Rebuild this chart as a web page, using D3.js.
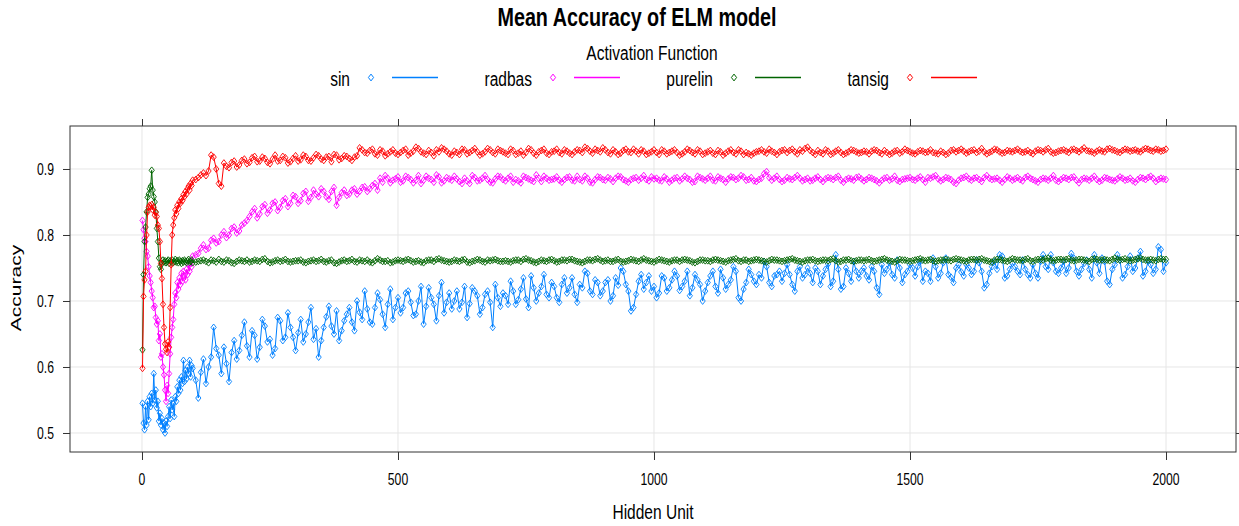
<!DOCTYPE html>
<html><head><meta charset="utf-8">
<script src="https://cdn.jsdelivr.net/npm/d3@7"></script>
<style>
body{margin:0;background:#fff;}
svg{display:block;font-family:'Liberation Sans','Arial',sans-serif;}
</style></head><body>
<svg id="chart" width="1239" height="526"></svg>
<script>
// ---------- DATA ----------
const hiddenUnitsEarly = [1,3,5,7,9,11,13,15,17,19,21,23,25,27,29,31,33,35,37,39,41,43,45,47,49,51,53,55,57,59,61,63,65,67,69,71,73,75,77,79,81,83,85,87,89,91,93,95,97,99];
const hiddenUnitsLate = [
105,110,115,120,125,130,135,140,145,150,155,160,165,170,175,180,185,190,195,200,
205,210,215,220,225,230,235,240,245,250,255,260,265,270,275,280,285,290,295,300,
305,310,315,320,325,330,335,340,345,350,355,360,365,370,375,380,385,390,395,400,
405,410,415,420,425,430,435,440,445,450,455,460,465,470,475,480,485,490,495,500,
505,510,515,520,525,530,535,540,545,550,555,560,565,570,575,580,585,590,595,600,
605,610,615,620,625,630,635,640,645,650,655,660,665,670,675,680,685,690,695,700,
705,710,715,720,725,730,735,740,745,750,755,760,765,770,775,780,785,790,795,800,
805,810,815,820,825,830,835,840,845,850,855,860,865,870,875,880,885,890,895,900,
905,910,915,920,925,930,935,940,945,950,955,960,965,970,975,980,985,990,995,1000,
1005,1010,1015,1020,1025,1030,1035,1040,1045,1050,1055,1060,1065,1070,1075,1080,1085,1090,1095,1100,
1105,1110,1115,1120,1125,1130,1135,1140,1145,1150,1155,1160,1165,1170,1175,1180,1185,1190,1195,1200,
1205,1210,1215,1220,1225,1230,1235,1240,1245,1250,1255,1260,1265,1270,1275,1280,1285,1290,1295,1300,
1305,1310,1315,1320,1325,1330,1335,1340,1345,1350,1355,1360,1365,1370,1375,1380,1385,1390,1395,1400,
1405,1410,1415,1420,1425,1430,1435,1440,1445,1450,1455,1460,1465,1470,1475,1480,1485,1490,1495,1500,
1505,1510,1515,1520,1525,1530,1535,1540,1545,1550,1555,1560,1565,1570,1575,1580,1585,1590,1595,1600,
1605,1610,1615,1620,1625,1630,1635,1640,1645,1650,1655,1660,1665,1670,1675,1680,1685,1690,1695,1700,
1705,1710,1715,1720,1725,1730,1735,1740,1745,1750,1755,1760,1765,1770,1775,1780,1785,1790,1795,1800,
1805,1810,1815,1820,1825,1830,1835,1840,1845,1850,1855,1860,1865,1870,1875,1880,1885,1890,1895,1900,
1905,1910,1915,1920,1925,1930,1935,1940,1945,1950,1955,1960,1965,1970,1975,1980,1985,1990,1995,2000];
const hiddenUnits = hiddenUnitsEarly.concat(hiddenUnitsLate);

const sinAcc = [0.545,0.515,0.505,0.540,0.512,0.548,0.520,0.555,0.540,0.560,0.545,0.590,0.550,0.565,0.538,0.548,0.518,0.530,0.512,0.522,0.505,0.515,0.500,0.518,0.510,0.525,0.540,0.522,0.550,0.535,0.545,0.525,0.555,0.548,0.570,0.560,0.580,0.565,0.585,0.575,0.610,0.578,0.595,0.582,0.600,0.590,0.610,0.585,0.602,0.598,
0.580,0.553,0.592,0.612,0.575,0.600,0.615,0.660,0.628,0.618,0.590,0.630,0.605,0.578,0.622,0.640,0.612,0.625,0.648,0.668,
0.632,0.615,0.655,0.648,0.612,0.630,0.672,0.662,0.638,0.642,0.618,0.628,0.675,0.670,0.640,0.645,0.682,0.660,0.645,0.625,
0.652,0.672,0.638,0.650,0.668,0.690,0.642,0.658,0.615,0.640,0.660,0.676,0.692,0.662,0.650,0.685,0.640,0.655,0.670,0.680,
0.690,0.668,0.655,0.700,0.683,0.672,0.715,0.688,0.668,0.665,0.690,0.712,0.702,0.680,0.660,0.695,0.718,0.672,0.690,0.705,
0.682,0.690,0.712,0.715,0.698,0.678,0.680,0.700,0.722,0.665,0.692,0.720,0.705,0.695,0.670,0.708,0.728,0.682,0.698,0.712,
0.688,0.700,0.715,0.688,0.698,0.722,0.675,0.696,0.720,0.715,0.708,0.680,0.690,0.710,0.715,0.698,0.660,0.725,0.705,0.692,
0.712,0.708,0.695,0.730,0.715,0.695,0.702,0.718,0.735,0.703,0.690,0.738,0.720,0.700,0.712,0.722,0.740,0.710,0.705,0.728,
0.722,0.705,0.698,0.725,0.735,0.712,0.720,0.735,0.710,0.698,0.725,0.720,0.745,0.742,0.715,0.710,0.732,0.728,0.708,0.715,
0.728,0.732,0.700,0.708,0.735,0.724,0.750,0.745,0.725,0.715,0.685,0.690,0.710,0.730,0.740,0.718,0.728,0.738,0.715,0.722,
0.705,0.712,0.738,0.735,0.715,0.720,0.732,0.745,0.738,0.716,0.722,0.730,0.745,0.708,0.720,0.740,0.732,0.725,0.700,0.715,
0.728,0.738,0.745,0.722,0.712,0.748,0.735,0.718,0.725,0.732,0.752,0.745,0.705,0.700,0.718,0.728,0.748,0.740,0.730,0.725,
0.740,0.735,0.760,0.752,0.728,0.722,0.738,0.740,0.745,0.730,0.742,0.755,0.740,0.725,0.715,0.745,0.752,0.735,0.740,0.750,
0.742,0.728,0.750,0.745,0.725,0.738,0.748,0.756,0.722,0.730,0.770,0.748,0.718,0.722,0.750,0.742,0.730,0.760,0.745,0.735,
0.745,0.750,0.738,0.732,0.752,0.745,0.720,0.710,0.755,0.742,0.748,0.758,0.740,0.735,0.762,0.750,0.728,0.740,0.745,0.755,
0.750,0.738,0.752,0.760,0.730,0.745,0.742,0.730,0.765,0.752,0.735,0.742,0.758,0.765,0.740,0.736,0.728,0.750,0.755,0.744,
0.738,0.755,0.750,0.740,0.745,0.762,0.758,0.745,0.720,0.725,0.742,0.752,0.760,0.748,0.770,0.768,0.735,0.738,0.748,0.757,
0.752,0.745,0.740,0.762,0.748,0.740,0.735,0.755,0.742,0.735,0.760,0.770,0.752,0.748,0.770,0.758,0.745,0.742,0.750,0.760,
0.742,0.750,0.772,0.765,0.745,0.738,0.748,0.757,0.762,0.748,0.735,0.770,0.758,0.742,0.765,0.760,0.730,0.725,0.748,0.755,
0.770,0.762,0.735,0.740,0.752,0.768,0.745,0.750,0.765,0.775,0.738,0.745,0.760,0.755,0.742,0.748,0.782,0.778,0.745,0.758];

const radbasAcc = [0.822,0.808,0.795,0.790,0.775,0.768,0.752,0.738,0.728,0.715,0.705,0.690,0.692,0.675,0.665,0.670,0.640,0.650,0.615,0.620,0.600,0.588,0.565,0.548,0.572,0.560,0.590,0.620,0.645,0.660,0.672,0.695,0.712,0.705,0.728,0.718,0.735,0.725,0.742,0.730,0.745,0.738,0.732,0.748,0.740,0.755,0.745,0.760,0.752,0.768,
0.770,0.772,0.780,0.785,0.778,0.780,0.792,0.795,0.788,0.790,0.800,0.805,0.796,0.800,0.810,0.812,0.803,0.806,0.815,0.818,
0.822,0.828,0.835,0.840,0.826,0.832,0.843,0.846,0.833,0.838,0.848,0.850,0.837,0.842,0.852,0.855,0.843,0.848,0.860,0.858,
0.848,0.852,0.863,0.866,0.851,0.857,0.868,0.862,0.858,0.870,0.866,0.858,0.854,0.866,0.872,0.845,0.857,0.864,0.868,0.860,
0.862,0.868,0.870,0.862,0.866,0.872,0.873,0.866,0.870,0.875,0.878,0.868,0.886,0.880,0.890,0.886,0.879,0.883,0.885,0.888,
0.880,0.882,0.889,0.887,0.884,0.879,0.883,0.890,0.878,0.883,0.889,0.886,0.884,0.880,0.891,0.888,0.879,0.882,0.887,0.885,
0.883,0.889,0.885,0.881,0.878,0.886,0.882,0.878,0.890,0.887,0.882,0.883,0.886,0.890,0.884,0.880,0.879,0.885,0.889,0.888,
0.884,0.882,0.886,0.889,0.880,0.884,0.882,0.879,0.889,0.887,0.885,0.883,0.881,0.891,0.886,0.881,0.889,0.886,0.883,0.884,
0.885,0.888,0.883,0.880,0.884,0.887,0.888,0.883,0.882,0.889,0.884,0.882,0.889,0.886,0.880,0.879,0.884,0.888,0.887,0.884,
0.883,0.887,0.885,0.881,0.886,0.889,0.888,0.884,0.882,0.880,0.884,0.886,0.887,0.883,0.886,0.890,0.884,0.882,0.888,0.885,
0.886,0.883,0.882,0.888,0.885,0.880,0.883,0.886,0.887,0.882,0.885,0.889,0.886,0.884,0.880,0.881,0.889,0.887,0.885,0.883,
0.886,0.889,0.883,0.882,0.888,0.886,0.884,0.880,0.885,0.888,0.887,0.884,0.886,0.890,0.888,0.883,0.884,0.887,0.882,0.881,
0.884,0.886,0.893,0.896,0.887,0.883,0.886,0.889,0.884,0.881,0.883,0.887,0.885,0.884,0.887,0.890,0.886,0.882,0.884,0.886,
0.882,0.883,0.886,0.888,0.884,0.881,0.885,0.887,0.886,0.884,0.887,0.889,0.883,0.880,0.884,0.886,0.885,0.883,0.887,0.888,
0.885,0.882,0.884,0.887,0.886,0.884,0.882,0.879,0.883,0.886,0.887,0.883,0.885,0.889,0.883,0.881,0.884,0.885,0.886,0.887,
0.884,0.883,0.886,0.888,0.884,0.880,0.887,0.886,0.888,0.890,0.885,0.882,0.884,0.887,0.886,0.884,0.880,0.878,0.883,0.886,
0.887,0.889,0.885,0.883,0.886,0.887,0.884,0.881,0.887,0.890,0.886,0.884,0.885,0.886,0.883,0.880,0.884,0.888,0.886,0.883,
0.885,0.887,0.884,0.882,0.887,0.889,0.886,0.884,0.882,0.880,0.884,0.886,0.885,0.883,0.886,0.890,0.883,0.881,0.884,0.887,
0.886,0.884,0.887,0.888,0.883,0.879,0.884,0.886,0.885,0.883,0.886,0.889,0.884,0.881,0.883,0.887,0.886,0.884,0.883,0.882,
0.885,0.888,0.886,0.883,0.884,0.886,0.882,0.880,0.884,0.887,0.886,0.884,0.887,0.889,0.886,0.881,0.884,0.886,0.885,0.884];

const purelinAcc = [0.626,0.740,0.790,0.812,0.835,0.857,0.862,0.870,0.874,0.898,0.868,0.858,0.850,0.835,0.810,0.790,0.765,0.752,0.748,0.757,0.762,0.759,0.761,0.758,0.760,0.762,0.757,0.761,0.759,0.762,0.758,0.760,0.763,0.759,0.761,0.758,0.762,0.760,0.757,0.761,0.759,0.762,0.760,0.758,0.761,0.763,0.759,0.760,0.762,0.758,
0.759,0.760,0.761,0.762,0.760,0.758,0.762,0.761,0.759,0.763,0.760,0.759,0.762,0.761,0.758,0.757,0.760,0.762,0.761,0.760,
0.762,0.759,0.760,0.762,0.761,0.760,0.763,0.764,0.760,0.758,0.759,0.761,0.762,0.760,0.761,0.763,0.760,0.759,0.760,0.761,
0.761,0.762,0.759,0.758,0.760,0.761,0.762,0.760,0.761,0.763,0.760,0.759,0.761,0.762,0.758,0.757,0.759,0.761,0.762,0.760,
0.761,0.763,0.760,0.759,0.762,0.761,0.760,0.762,0.759,0.758,0.761,0.764,0.762,0.760,0.760,0.761,0.758,0.759,0.761,0.762,
0.761,0.760,0.762,0.763,0.761,0.759,0.760,0.761,0.759,0.758,0.761,0.762,0.762,0.760,0.763,0.764,0.762,0.761,0.760,0.759,
0.760,0.762,0.761,0.760,0.762,0.763,0.759,0.758,0.760,0.761,0.763,0.762,0.760,0.759,0.762,0.761,0.762,0.763,0.761,0.760,
0.760,0.761,0.760,0.759,0.761,0.762,0.762,0.760,0.763,0.764,0.762,0.761,0.759,0.758,0.760,0.762,0.761,0.760,0.762,0.763,
0.761,0.759,0.760,0.762,0.762,0.761,0.763,0.763,0.761,0.760,0.759,0.758,0.760,0.762,0.762,0.761,0.763,0.764,0.762,0.760,
0.761,0.762,0.760,0.760,0.762,0.763,0.760,0.759,0.760,0.761,0.763,0.762,0.761,0.760,0.762,0.764,0.762,0.761,0.760,0.759,
0.761,0.763,0.762,0.761,0.760,0.759,0.761,0.762,0.762,0.760,0.762,0.763,0.762,0.761,0.759,0.758,0.760,0.762,0.762,0.761,
0.761,0.760,0.762,0.763,0.762,0.761,0.760,0.759,0.761,0.762,0.763,0.764,0.761,0.760,0.762,0.762,0.760,0.761,0.762,0.763,
0.762,0.761,0.760,0.759,0.761,0.763,0.762,0.762,0.761,0.760,0.761,0.762,0.763,0.764,0.762,0.761,0.760,0.759,0.761,0.762,
0.762,0.763,0.761,0.760,0.761,0.762,0.762,0.761,0.763,0.764,0.761,0.759,0.760,0.762,0.762,0.763,0.761,0.760,0.761,0.762,
0.762,0.761,0.762,0.763,0.761,0.760,0.761,0.762,0.763,0.764,0.762,0.761,0.760,0.759,0.761,0.763,0.762,0.762,0.761,0.760,
0.761,0.762,0.763,0.764,0.762,0.761,0.762,0.763,0.761,0.760,0.761,0.762,0.762,0.763,0.762,0.761,0.763,0.764,0.763,0.762,
0.761,0.760,0.762,0.763,0.763,0.762,0.763,0.764,0.762,0.761,0.760,0.759,0.762,0.763,0.763,0.762,0.761,0.760,0.762,0.764,
0.763,0.762,0.762,0.761,0.763,0.764,0.761,0.760,0.762,0.763,0.763,0.762,0.764,0.765,0.762,0.761,0.762,0.763,0.763,0.762,
0.763,0.764,0.762,0.761,0.762,0.763,0.763,0.762,0.761,0.760,0.763,0.764,0.763,0.762,0.762,0.763,0.762,0.761,0.763,0.765,
0.763,0.762,0.763,0.764,0.762,0.761,0.762,0.763,0.764,0.765,0.763,0.762,0.762,0.763,0.762,0.761,0.763,0.764,0.763,0.763];

const tansigAcc = [0.598,0.707,0.732,0.745,0.800,0.835,0.842,0.845,0.843,0.846,0.838,0.842,0.830,0.834,0.828,0.815,0.810,0.790,0.757,0.734,0.695,0.660,0.635,0.627,0.622,0.638,0.630,0.690,0.755,0.800,0.815,0.826,0.838,0.832,0.845,0.840,0.850,0.848,0.855,0.852,0.861,0.858,0.866,0.862,0.870,0.874,0.868,0.878,0.875,0.883,
0.884,0.887,0.891,0.894,0.890,0.897,0.921,0.918,0.900,0.878,0.874,0.909,0.904,0.902,0.910,0.912,0.903,0.906,0.913,0.915,
0.908,0.910,0.917,0.919,0.911,0.912,0.918,0.916,0.910,0.908,0.915,0.921,0.912,0.913,0.919,0.917,0.909,0.911,0.916,0.920,
0.912,0.914,0.921,0.919,0.913,0.912,0.917,0.922,0.920,0.915,0.913,0.918,0.919,0.911,0.922,0.921,0.914,0.916,0.920,0.919,
0.916,0.913,0.918,0.920,0.932,0.929,0.925,0.924,0.928,0.930,0.923,0.921,0.929,0.927,0.920,0.923,0.926,0.929,0.924,0.922,
0.925,0.928,0.930,0.921,0.924,0.927,0.933,0.931,0.926,0.924,0.922,0.928,0.925,0.920,0.929,0.926,0.932,0.930,0.927,0.923,
0.921,0.927,0.925,0.922,0.930,0.929,0.923,0.925,0.928,0.931,0.926,0.921,0.923,0.926,0.931,0.929,0.925,0.923,0.930,0.928,
0.926,0.924,0.922,0.930,0.928,0.922,0.924,0.927,0.921,0.925,0.931,0.929,0.924,0.921,0.926,0.928,0.930,0.924,0.922,0.926,
0.927,0.930,0.925,0.923,0.929,0.927,0.924,0.922,0.926,0.929,0.928,0.925,0.933,0.931,0.927,0.924,0.930,0.928,0.926,0.932,
0.929,0.925,0.923,0.929,0.926,0.922,0.924,0.928,0.930,0.926,0.925,0.930,0.927,0.923,0.929,0.927,0.922,0.924,0.926,0.929,
0.925,0.922,0.929,0.927,0.923,0.925,0.927,0.929,0.925,0.921,0.923,0.926,0.930,0.928,0.925,0.923,0.929,0.927,0.922,0.924,
0.926,0.928,0.924,0.922,0.928,0.926,0.921,0.924,0.927,0.929,0.925,0.923,0.929,0.927,0.922,0.925,0.923,0.921,0.924,0.926,
0.927,0.929,0.926,0.924,0.930,0.927,0.925,0.922,0.926,0.928,0.929,0.925,0.928,0.930,0.926,0.923,0.929,0.927,0.931,0.933,
0.928,0.925,0.922,0.928,0.925,0.923,0.929,0.927,0.922,0.924,0.927,0.929,0.925,0.922,0.924,0.926,0.929,0.928,0.926,0.924,
0.925,0.927,0.926,0.923,0.927,0.929,0.928,0.925,0.923,0.928,0.925,0.922,0.924,0.927,0.928,0.924,0.926,0.930,0.928,0.926,
0.924,0.923,0.926,0.928,0.927,0.925,0.926,0.929,0.925,0.924,0.923,0.927,0.925,0.922,0.924,0.928,0.929,0.926,0.928,0.930,
0.927,0.924,0.926,0.928,0.929,0.925,0.927,0.931,0.926,0.923,0.925,0.927,0.930,0.929,0.926,0.924,0.925,0.928,0.927,0.926,
0.928,0.930,0.927,0.925,0.926,0.928,0.925,0.923,0.927,0.929,0.928,0.926,0.929,0.931,0.926,0.924,0.925,0.927,0.928,0.929,
0.927,0.925,0.929,0.930,0.928,0.926,0.929,0.932,0.928,0.927,0.926,0.924,0.927,0.929,0.927,0.926,0.930,0.931,0.929,0.928,
0.926,0.925,0.928,0.930,0.929,0.927,0.928,0.929,0.927,0.926,0.929,0.931,0.930,0.928,0.927,0.930,0.929,0.927,0.928,0.930];

const seriesNames = ["sin", "radbas", "purelin", "tansig"];
const seriesValues = [sinAcc, radbasAcc, purelinAcc, tansigAcc];
const seriesColors = ["#0080ff", "#ff00ff", "#006400", "#ff0000"];
const xTicks = [0, 500, 1000, 1500, 2000];
const yTicks = [0.5, 0.6, 0.7, 0.8, 0.9];
const titleText = "Mean Accuracy of ELM model";
const legendTitle = "Activation Function";
const xLabel = "Hidden Unit";
const yLabel = "Accuracy";

// ---------- CHART ----------
const svg = d3.select("#chart");
const P = {left: 70, right: 1236, top: 126, bottom: 452};
const x = d3.scaleLinear().domain([-140.6, 2136.7]).range([P.left, P.right]);
const y = d3.scaleLinear().domain([0.47121, 0.96515]).range([P.bottom, P.top]);
const frameColor = "#333";
const SX = 0.74; // horizontal text squeeze seen in the reference
const diamond = "M0,-3.4L2.6,0L0,3.4L-2.6,0Z";

svg.append("rect").attr("width", 1239).attr("height", 526).attr("fill", "#fff");

function addText(px, py, str, size, anchor, opts = {}) {
  const t = svg.append("text")
    .attr("transform", `translate(${px},${py}) scale(${opts.sx || SX},1)` + (opts.rotate ? ` rotate(${opts.rotate})` : ""))
    .attr("text-anchor", anchor)
    .attr("fill", opts.fill || "#000")
    .style("font-size", size + "px")
    .text(str);
  if (opts.bold) t.style("font-weight", "bold");
  return t;
}

// grid
const grid = svg.append("g").attr("stroke", "#e6e6e6").attr("stroke-width", 1);
grid.selectAll("line.gx").data(xTicks).join("line").attr("class", "gx")
  .attr("x1", d => x(d)).attr("x2", d => x(d)).attr("y1", P.top).attr("y2", P.bottom);
grid.selectAll("line.gy").data(yTicks).join("line").attr("class", "gy")
  .attr("y1", d => y(d)).attr("y2", d => y(d)).attr("x1", P.left).attr("x2", P.right);

svg.append("clipPath").attr("id", "clip").append("rect")
  .attr("x", P.left).attr("y", P.top).attr("width", P.right - P.left).attr("height", P.bottom - P.top);

const plotG = svg.append("g").attr("clip-path", "url(#clip)");
const line = d3.line().x(d => x(d[0])).y(d => y(d[1]));

seriesNames.forEach((name, i) => {
  const vals = seriesValues[i];
  const n = Math.min(vals.length, hiddenUnits.length);
  const pts = [];
  for (let k = 0; k < n; k++) pts.push([hiddenUnits[k], vals[k]]);
  const g = plotG.append("g").attr("class", "series-" + name);
  g.append("path").datum(pts).attr("d", line)
    .attr("fill", "none").attr("stroke", seriesColors[i]).attr("stroke-width", 1);
  g.selectAll("path.pt").data(pts).join("path").attr("class", "pt")
    .attr("d", diamond)
    .attr("transform", d => `translate(${x(d[0])},${y(d[1])})`)
    .attr("fill", "none").attr("stroke", seriesColors[i]).attr("stroke-width", 0.9);
});

// frame
svg.append("rect").attr("x", P.left).attr("y", P.top)
  .attr("width", P.right - P.left).attr("height", P.bottom - P.top)
  .attr("fill", "none").attr("stroke", frameColor).attr("stroke-width", 1);

// tick marks via d3 axes (labels drawn separately so they can be squeezed)
function styleAxis(g) {
  g.select(".domain").remove();
  g.selectAll(".tick line").attr("stroke", frameColor);
  g.selectAll(".tick text").remove();
}
svg.append("g").attr("transform", `translate(0,${P.bottom})`)
  .call(d3.axisBottom(x).tickValues(xTicks).tickSize(8)).call(styleAxis);
svg.append("g").attr("transform", `translate(0,${P.top})`)
  .call(d3.axisTop(x).tickValues(xTicks).tickSize(7)).call(styleAxis);
svg.append("g").attr("transform", `translate(${P.left},0)`)
  .call(d3.axisLeft(y).tickValues(yTicks).tickSize(7)).call(styleAxis);
svg.append("g").attr("transform", `translate(${P.right},0)`)
  .call(d3.axisRight(y).tickValues(yTicks).tickSize(7)).call(styleAxis);

xTicks.forEach(v => addText(x(v), 485, d3.format("d")(v), 16.5, "middle"));
yTicks.forEach(v => addText(54, y(v) + 6, d3.format(".1f")(v), 16.5, "end"));

// labels
addText(637, 26, titleText, 26, "middle", {bold: true, sx: 0.76});
addText(653, 519, xLabel, 21, "middle");
svg.append("text")
  .attr("transform", `translate(21,288) scale(${SX},1) rotate(-90)`)
  .attr("text-anchor", "middle").style("font-size", "21px").text(yLabel);

// legend
addText(652, 60, legendTitle, 21, "middle");
const legendTextEnd = [350, 532, 713, 889];
seriesNames.forEach((name, i) => {
  const te = legendTextEnd[i];
  addText(te, 86, name, 21, "end");
  svg.append("path").attr("d", diamond).attr("transform", `translate(${te + 21},77.5)`)
    .attr("fill", "none").attr("stroke", seriesColors[i]).attr("stroke-width", 1);
  svg.append("line").attr("x1", te + 42).attr("x2", te + 88).attr("y1", 77.5).attr("y2", 77.5)
    .attr("stroke", seriesColors[i]).attr("stroke-width", 1.3);
});
</script>
</body></html>
